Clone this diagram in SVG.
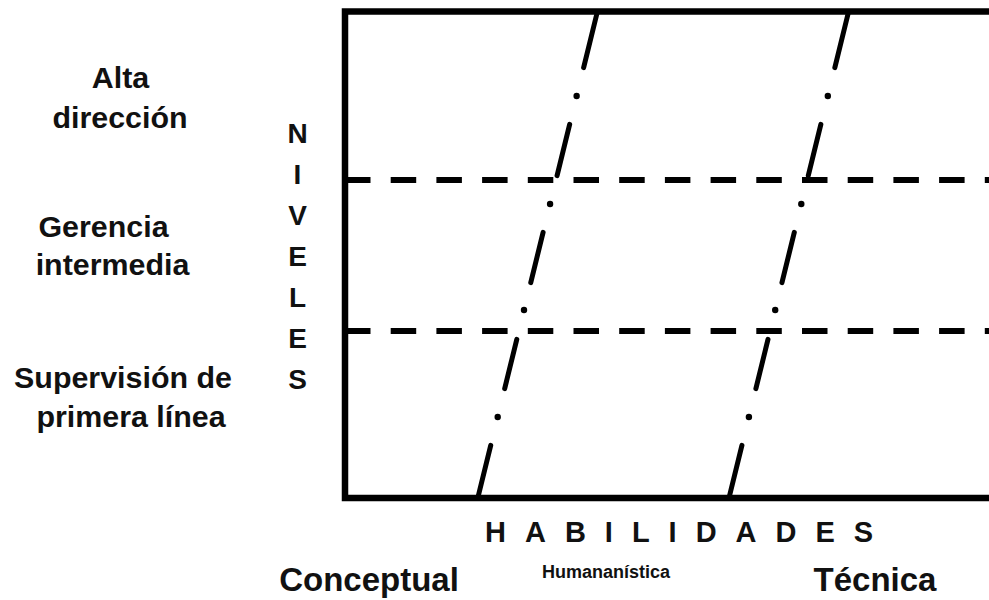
<svg xmlns="http://www.w3.org/2000/svg" width="989" height="600" viewBox="0 0 989 600">
<style>
.lbl{font-family:"Liberation Sans",Arial,sans-serif;font-weight:bold;fill:#111;}
.lvl{font-size:30.4px;text-anchor:middle;}
.niv{font-size:28px;text-anchor:middle;}
.box{fill:none;stroke:#000;stroke-width:6.5;}
.dash{stroke:#000;stroke-width:6;stroke-dasharray:25.5 20.2;fill:none;}
.dd{stroke:#000;stroke-width:5;stroke-linecap:round;fill:none;}
.dot{fill:#000;}
</style>
<defs>
<g id="dashdot">
<path class="dd" d="M597.3 12 L583.63 67.6 M569.66 124.4 L557.07 175.6 M543.1 232.4 L530.76 282.6 M516.79 339.4 L504.69 388.6 M490.73 445.4 L477.79 498"/>
<circle class="dot" cx="576.64" cy="96" r="3.2"/>
<circle class="dot" cx="550.09" cy="204" r="3.2"/>
<circle class="dot" cx="524.02" cy="310" r="3.2"/>
<circle class="dot" cx="497.71" cy="417" r="3.2"/>
</g>
</defs>
<rect width="989" height="600" fill="#fff"/>
<g id="frame">
<path class="box" d="M992 11.5 H345 V498 H992"/>
</g>
<g id="connectors">
<line class="dash" x1="345" y1="180" x2="989" y2="180"/>
<line class="dash" x1="345" y1="331" x2="989" y2="331"/>
<use href="#dashdot"/>
<use href="#dashdot" transform="translate(251.2,0)"/>
</g>
<g id="alta">
<text class="lbl lvl" x="120.5" y="88">Alta</text>
<text class="lbl lvl" x="120" y="128">dirección</text>
</g>
<g id="gerencia">
<text class="lbl lvl" x="103.5" y="237">Gerencia</text>
<text class="lbl lvl" x="112.5" y="275">intermedia</text>
</g>
<g id="supervision">
<text class="lbl lvl" x="123" y="388">Supervisión de</text>
<text class="lbl lvl" x="131" y="427">primera línea</text>
</g>
<g id="niveles">
<text class="lbl niv" x="297.5" y="143">N</text>
<text class="lbl niv" x="297.5" y="184">I</text>
<text class="lbl niv" x="297.5" y="225">V</text>
<text class="lbl niv" x="297.5" y="266">E</text>
<text class="lbl niv" x="297.5" y="307">L</text>
<text class="lbl niv" x="297.5" y="348">E</text>
<text class="lbl niv" x="297.5" y="389">S</text>
</g>
<g id="habilidades">
<text class="lbl" x="485" y="542" font-size="29" letter-spacing="19">HABILIDADES</text>
</g>
<g id="conceptual">
<text class="lbl" x="369" y="591" font-size="33" text-anchor="middle">Conceptual</text>
</g>
<g id="humanistica">
<text class="lbl" x="606" y="578" font-size="18" text-anchor="middle">Humananística</text>
</g>
<g id="tecnica">
<text class="lbl" x="875" y="591" font-size="33" text-anchor="middle">Técnica</text>
</g>
</svg>
